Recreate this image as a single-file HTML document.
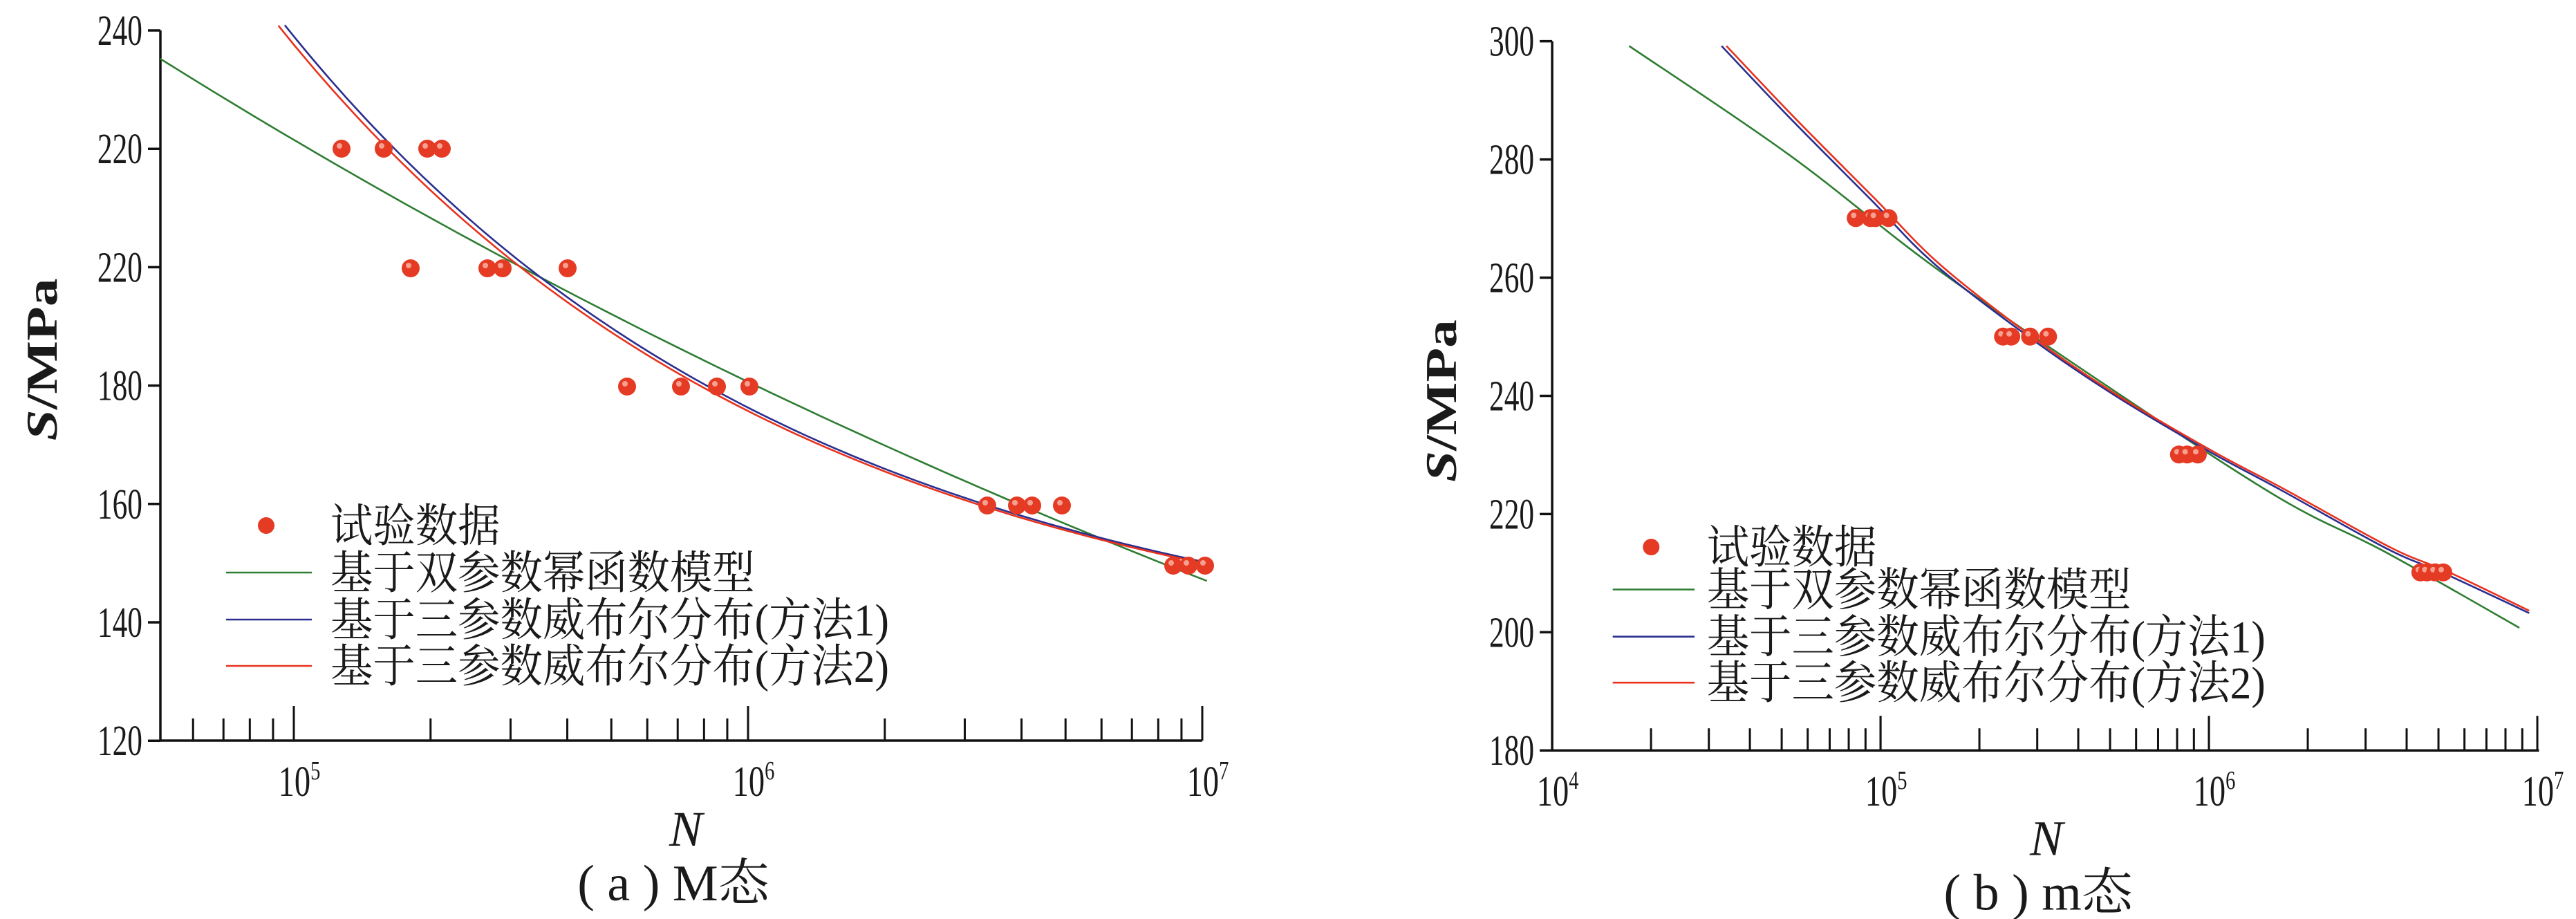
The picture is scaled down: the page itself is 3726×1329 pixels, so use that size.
<!DOCTYPE html>
<html><head><meta charset="utf-8"><style>
html,body{margin:0;padding:0;background:#fff;}
svg{display:block}
text{font-family:"Liberation Serif","Noto Serif CJK SC",serif;fill:#1a1a1a}
</style></head><body>
<svg id="s" width="3726" height="1329" xmlns="http://www.w3.org/2000/svg"></svg>
<script>
const s=document.getElementById('s');let h='';
function smooth(pts){let d='M'+pts[0][0].toFixed(1)+' '+pts[0][1].toFixed(1);
 for(let i=0;i<pts.length-1;i++){const p0=pts[i-1]||pts[i],p1=pts[i],p2=pts[i+1],p3=pts[i+2]||p2;
  const c1=[p1[0]+(p2[0]-p0[0])/6,p1[1]+(p2[1]-p0[1])/6],c2=[p2[0]-(p3[0]-p1[0])/6,p2[1]-(p3[1]-p1[1])/6];
  d+=` C${c1[0].toFixed(1)} ${c1[1].toFixed(1)} ${c2[0].toFixed(1)} ${c2[1].toFixed(1)} ${p2[0].toFixed(1)} ${p2[1].toFixed(1)}`;}
 return d;}
// left plot curve generators (orig coords)
const LX=L=>425+(L-5)*657, LY=S=>44+(240-S)*8.56;
function gen(f,L0,L1){const p=[];for(let i=0;i<=60;i++){const L=L0+(L1-L0)*i/60;p.push([LX(L),LY(f(L))]);}return p;}
const fg=L=>235.4*Math.pow(10,-0.0886*(L-4.702));
const fb=L=>131.8+107.2*Math.pow(10,-0.382*(L-5));
const fr=L=>fb(L+0.015);
function plot(o){
 const ox=o.ox,SX=o.sx,SY=o.sy;
 const X=x=>ox+x*SX,Y=y=>y*SY;
 const M=pts=>smooth(pts.map(p=>[X(p[0]),Y(p[1])]));
 h+=`<path d="M${X(o.ax)} ${Y(o.top)} L${X(o.ax)} ${Y(o.bot)} L${X(o.xend)} ${Y(o.bot)}" stroke="#111" stroke-width="3.5" fill="none"/>`;
 o.yt.forEach((lab,i)=>{const yy=Y(o.top+i*o.ystep);
  h+=`<line x1="${X(o.ax)-18}" y1="${yy}" x2="${X(o.ax)}" y2="${yy}" stroke="#111" stroke-width="3.5"/>`;
  const tx=X(o.ax)-26;
  h+=`<text x="0" y="0" font-size="62" text-anchor="end" transform="translate(${tx} ${yy+21}) scale(0.7 1)">${lab}</text>`;});
 for(let d=o.d0;d<o.d1;d++){for(let k=1;k<=10;k++){const lx=o.x0+(d-o.d0+Math.log10(k))*o.dec;if(X(lx)<X(o.ax)+2||X(lx)>X(o.xend)+1)continue;
  const len=(k==1||k==10)?50:32;
  h+=`<line x1="${X(lx)}" y1="${Y(o.bot)}" x2="${X(lx)}" y2="${Y(o.bot)-len}" stroke="#111" stroke-width="3"/>`;}}
 for(let d=o.d0;d<=o.d1;d++){const lx=o.x0+(d-o.d0)*o.dec;if(X(lx)<X(o.ax)-5)continue;
  h+=`<text x="0" y="0" font-size="62" text-anchor="middle" transform="translate(${X(lx)+8} ${Y(o.bot)+80}) scale(0.75 1)">10<tspan font-size="38" dy="-24">${d}</tspan></text>`;}
 h+=`<path d="${M(o.g)}" fill="none" stroke="#2e7d32" stroke-width="2.6"/>`;
 h+=`<path d="${M(o.b)}" fill="none" stroke="#2a2f8f" stroke-width="2.6"/>`;
 h+=`<path d="${M(o.r)}" fill="none" stroke="#e8321e" stroke-width="2.6"/>`;
 o.pts.forEach(r=>r[1].forEach(x=>{h+=`<circle cx="${X(x)}" cy="${Y(r[0])}" r="13" fill="#e53a24"/><circle cx="${X(x)-3}" cy="${Y(r[0])-4}" r="4" fill="#f7a090"/>`;}));
 const L=o.leg;
 h+=`<circle cx="${X(L.mx)}" cy="${Y(L.ys[0])}" r="12" fill="#e53a24"/>`;
 const labs=['试验数据','基于双参数幂函数模型','基于三参数威布尔分布(方法1)','基于三参数威布尔分布(方法2)'];
 const cols=[null,'#2e7d32','#2a2f8f','#e8321e'];
 labs.forEach((t,i)=>{const yy=Y(L.ys[i]);
  if(i>0)h+=`<line x1="${X(L.l0)}" y1="${yy}" x2="${X(L.l1)}" y2="${yy}" stroke="${cols[i]}" stroke-width="2.6"/>`;
  h+=`<text x="0" y="0" font-size="66" transform="translate(${X(L.tx)} ${yy+23}) scale(0.93 1)">${t}</text>`;});
 h+=`<text transform="translate(${X(o.yl[0])+22} ${Y(o.yl[1])}) rotate(-90)" font-size="64" font-weight="bold" text-anchor="middle" textLength="235" lengthAdjust="spacingAndGlyphs"><tspan font-style="italic">S</tspan>/MPa</text>`;
 h+=`<text x="${X(o.nl[0])}" y="${Y(o.nl[1])+26}" font-size="72" font-style="italic" text-anchor="middle">N</text>`;
 h+=`<text x="${X(o.cap[0])}" y="${Y(o.cap[1])+28}" font-size="74" text-anchor="middle">( ${o.capt[0]} ) ${o.capt[1]}</text>`;
}
plot({ox:0,sx:1,sy:1,ax:232,top:44,bot:1071,xend:1739,ystep:171.2,yt:['240','220','220','180','160','140','120'],
 x0:-232,dec:657,d0:4,d1:7,
 g:gen(fg,4.706,7.01),
 b:gen(fb,4.98,7.0),
 r:gen(fr,4.966,7.0),
 pts:[[215,[494,555,618,639]],[388,[594,705,727,821]],[559,[907,985,1037,1084]],[731,[1428,1471,1493,1536]],[818,[1697,1719,1743]]],
 leg:{mx:385,ys:[760,828,896,963],l0:327,l1:451,tx:478},
 yl:[60,520],nl:[992,1197],cap:[974,1274],capt:['a','M态']});
plot({ox:1877,sx:1.1836,sy:0.8525,ax:311,top:70,bot:1273,xend:1517,ystep:200.5,yt:['300','280','260','240','220','200','180'],
 x0:311,dec:401.3,d0:4,d1:7,
 g:[[405,78],[600,262],[780,455],[1000,665],[1200,845],[1330,937],[1493,1065]],
 b:[[518,78],[600,198],[700,338],[780,450],[900,578],[1000,672],[1113,765],[1200,830],[1330,930],[1400,972],[1505,1040]],
 r:[[524,78],[606,198],[706,338],[786,450],[906,580],[1006,674],[1119,766],[1206,830],[1336,929],[1406,970],[1505,1036]],
 pts:[[370,[682,700,706,722]],[571,[862,872,895,917]],[771,[1077,1087,1100]],[971,[1372,1380,1390,1400]]],
 leg:{mx:432,ys:[928,1000,1080,1158],l0:385,l1:485,tx:500},
 yl:[175,680],nl:[915,1420],cap:[905,1510],capt:['b','m态']});
s.innerHTML=h;
</script>
</body></html>
